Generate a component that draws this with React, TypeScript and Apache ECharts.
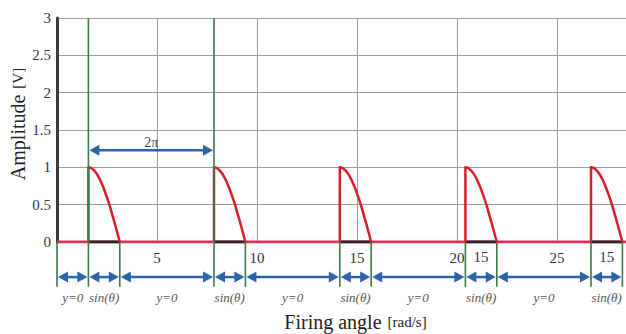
import React, { useEffect, useRef } from "react";
import * as echarts from "echarts";

// ---- data ----
const pulseStarts = [1.57, 7.85, 14.14, 20.42, 26.7];
const pulseEnds = [3.14, 9.42, 15.71, 21.99, 28.27];
const pulseShapeDx = [0, 0.15, 0.3, 0.45, 0.6, 0.75, 0.9, 1.05, 1.2, 1.35, 1.57];
const pulseShapeY = [1, 0.99, 0.955, 0.9, 0.825, 0.73, 0.62, 0.5, 0.36, 0.22, 0];
const segmentBounds = [0, 1.57, 3.14, 7.85, 9.42, 14.14, 15.71, 20.42, 21.99, 26.7, 28.27];
const segmentLabels = ["y=0", "sin(θ)", "y=0", "sin(θ)", "y=0", "sin(θ)", "y=0", "sin(θ)", "y=0", "sin(θ)"];
const fullHeightMarkers = [1.57, 7.85];
const periodArrow = [1.57, 7.85];
const periodLabel = "2π";
const xTickValues = [5, 10, 15, 20, 25];
const extraLabelX = [21.2, 27.49];
const extraLabelText = ["15", "15"];

const X_MAX = 28.45;
const Y_MAX = 3;
const SERIF = "Liberation Serif";

export default function App() {
  const ref = useRef<HTMLDivElement>(null);
  useEffect(() => {
    if (!ref.current) return;
    const chart = echarts.init(ref.current, null, { renderer: "svg" });

    const arrowY = -0.47;
    const labelY = -0.74;
    const greenBottom = -0.6;
    const periodY = 1.23;
    const extraY = -0.207;

    const pulseData: any[] = [];
    pulseStarts.forEach((s, i) => {
      pulseData.push([s, 0]);
      pulseShapeDx.forEach((dx, j) => {
        const x = j === pulseShapeDx.length - 1 ? pulseEnds[i] : s + dx;
        pulseData.push([x, pulseShapeY[j]]);
      });
      pulseData.push(null);
    });
    const underData: any[] = [];
    pulseStarts.forEach((s, i) => {
      underData.push([s, 0], [pulseEnds[i], 0], null);
    });

    const segData = segmentLabels.map((_, i) => [segmentBounds[i], segmentBounds[i + 1]]);
    const greenData = segmentBounds.map((x) => [x, fullHeightMarkers.includes(x) ? Y_MAX : 0]);

    const blue = "#2b62ad";
    const arrowGroup = (p0: number[], p1: number[], w: number) => {
      const L = 10;
      const H = 5.5;
      return [
        { type: "line", shape: { x1: p0[0] + L - 1, y1: p0[1], x2: p1[0] - L + 1, y2: p1[1] }, style: { stroke: blue, lineWidth: w } },
        { type: "polygon", shape: { points: [[p0[0], p0[1]], [p0[0] + L, p0[1] - H], [p0[0] + L, p0[1] + H]] }, style: { fill: blue } },
        { type: "polygon", shape: { points: [[p1[0], p1[1]], [p1[0] - L, p1[1] - H], [p1[0] - L, p1[1] + H]] }, style: { fill: blue } },
      ];
    };

    chart.setOption({
      animation: false,
      textStyle: { fontFamily: SERIF },
      grid: { left: 57, top: 18, right: 0, bottom: 92, outerBoundsMode: "none", containLabel: false },
      xAxis: {
        type: "value",
        min: 0,
        max: X_MAX,
        interval: 5,
        axisLine: { show: false },
        axisTick: { show: false },
        splitLine: { show: true, lineStyle: { color: "#9a9a9a", width: 1 } },
        axisLabel: {
          margin: 8,
          fontSize: 15,
          fontFamily: SERIF,
          color: "#333",
          showMaxLabel: false,
          formatter: (v: number) => (xTickValues.includes(v) ? String(v) : ""),
        },
        name: "{a|Firing angle}  {b|[rad/s]}",
        nameLocation: "middle",
        nameGap: 70,
        nameTextStyle: {
          fontFamily: SERIF,
          padding: [0, 0, 0, 28],
          rich: {
            a: { fontSize: 20, fontFamily: SERIF, color: "#222" },
            b: { fontSize: 15, fontFamily: SERIF, color: "#222" },
          },
        },
      },
      yAxis: {
        type: "value",
        min: 0,
        max: Y_MAX,
        interval: 0.5,
        axisLine: { show: true, lineStyle: { color: "#3a3a3a", width: 3 } },
        axisTick: { show: false },
        splitLine: { show: true, lineStyle: { color: "#9a9a9a", width: 1 } },
        axisLabel: { margin: 6, fontSize: 15, fontFamily: SERIF, color: "#333" },
        name: "{a|Amplitude}  {b|[V]}",
        nameLocation: "middle",
        nameRotate: 90,
        nameGap: 29,
        nameMoveOverlap: false,
        nameTextStyle: {
          fontFamily: SERIF,
          padding: [0, 0, 0, 12],
          rich: {
            a: { fontSize: 20, fontFamily: SERIF, color: "#222" },
            b: { fontSize: 15, fontFamily: SERIF, color: "#222" },
          },
        },
      },
      series: [
        {
          type: "line",
          name: "baseline",
          data: [[0, 0], [X_MAX, 0]],
          symbol: "none",
          lineStyle: { color: "#dc3058", width: 3 },
          z: 3,
        },
        {
          type: "line",
          name: "under",
          data: underData,
          symbol: "none",
          connectNulls: false,
          lineStyle: { color: "#2a2a2a", width: 3 },
          z: 4,
        },
        {
          type: "line",
          name: "pulses",
          data: pulseData,
          symbol: "none",
          connectNulls: false,
          lineStyle: { color: "#d61f2b", width: 2.5, join: "round" },
          z: 5,
        },
        {
          type: "custom",
          name: "markers",
          clip: false,
          z: 6,
          data: greenData,
          renderItem: (params: any, api: any) => {
            const x = api.value(0);
            const top = api.value(1);
            const p0 = api.coord([x, top]);
            const p1 = api.coord([x, greenBottom]);
            return {
              type: "line",
              shape: { x1: p0[0], y1: p0[1], x2: p1[0], y2: p1[1] },
              style: { stroke: "#3b7a48", lineWidth: 1.6 },
            };
          },
        },
        {
          type: "custom",
          name: "segments",
          clip: false,
          z: 7,
          data: segData,
          renderItem: (params: any, api: any) => {
            const x0 = api.value(0);
            const x1 = api.value(1);
            const p0 = api.coord([x0, arrowY]);
            const p1 = api.coord([x1, arrowY]);
            const pl = api.coord([(x0 + x1) / 2, labelY]);
            return {
              type: "group",
              children: [
                ...arrowGroup([p0[0] + 1, p0[1]], [p1[0] - 1, p1[1]], 2.5),
                {
                  type: "text",
                  x: pl[0],
                  y: pl[1],
                  style: {
                    text: segmentLabels[params.dataIndex],
                    fontFamily: SERIF,
                    fontStyle: "italic",
                    fontSize: 13,
                    fill: "#555",
                    align: "center",
                    verticalAlign: "middle",
                  },
                },
              ],
            };
          },
        },
        {
          type: "custom",
          name: "period",
          clip: false,
          z: 7,
          data: [[periodArrow[0], periodArrow[1]]],
          renderItem: (params: any, api: any) => {
            const x0 = api.value(0);
            const x1 = api.value(1);
            const p0 = api.coord([x0, periodY]);
            const p1 = api.coord([x1, periodY]);
            const pl = api.coord([(x0 + x1) / 2, periodY]);
            return {
              type: "group",
              children: [
                ...arrowGroup([p0[0] + 1, p0[1]], [p1[0] - 1, p1[1]], 2.5),
                {
                  type: "text",
                  x: pl[0],
                  y: pl[1] - 1,
                  style: {
                    text: periodLabel,
                    fontFamily: SERIF,
                    fontSize: 14,
                    fill: "#444",
                    align: "center",
                    verticalAlign: "bottom",
                  },
                },
              ],
            };
          },
        },
        {
          type: "custom",
          name: "extra",
          clip: false,
          z: 7,
          data: extraLabelX.map((x) => [x, extraY]),
          renderItem: (params: any, api: any) => {
            const p = api.coord([api.value(0), api.value(1)]);
            return {
              type: "text",
              x: p[0],
              y: p[1],
              style: {
                text: extraLabelText[params.dataIndex],
                fontFamily: SERIF,
                fontSize: 15,
                fill: "#333",
                align: "center",
                verticalAlign: "middle",
              },
            };
          },
        },
      ],
    });
    return () => chart.dispose();
  }, []);
  return (
    <div
      ref={ref}
      style={{ position: "fixed", left: 0, top: 0, width: 626, height: 334, background: "#fff" }}
    />
  );
}
